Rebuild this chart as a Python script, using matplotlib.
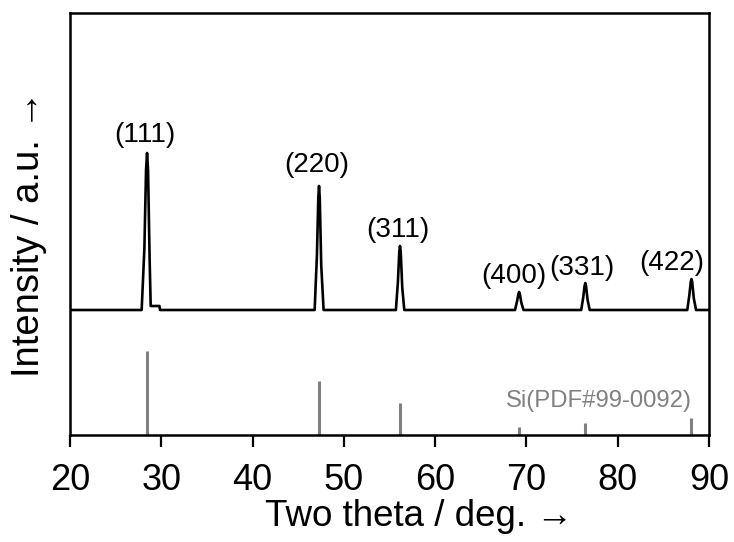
import matplotlib
matplotlib.use('Agg')
from matplotlib import pyplot as plt

plt.rcParams['font.family'] = ['Liberation Sans', 'DejaVu Sans']

# Measured XRD trace (2theta, intensity above baseline)
trace_x = [20.0, 27.85, 28.15, 28.33, 28.44, 28.55, 28.72, 28.84, 29.80, 29.86,
           46.80, 47.05, 47.20, 47.28, 47.36, 47.52, 47.78,
           55.70, 55.92, 56.07, 56.15, 56.23, 56.40, 56.62,
           68.75, 68.98, 69.12, 69.20, 69.28, 69.45, 69.68,
           76.00, 76.23, 76.37, 76.45, 76.53, 76.70, 76.93,
           87.62, 87.85, 88.00, 88.08, 88.16, 88.33, 88.58, 90.0]
trace_y = [0, 0, 62, 140, 157, 140, 52, 4, 4, 0,
           0, 55, 112, 124, 112, 45, 0,
           0, 28, 58, 64, 58, 22, 0,
           0, 9, 16, 18, 16, 7, 0,
           0, 13, 24, 27, 24, 10, 0,
           0, 15, 28, 31, 28, 12, 0, 0]

# Reference pattern Si(PDF#99-0092)
ref_pos = [28.44, 47.28, 56.15, 69.20, 76.45, 88.08]
ref_int = [84, 54, 32, 8, 12, 17]

hkl = ['(111)', '(220)', '(311)', '(400)', '(331)', '(422)']
peak_int = [157, 124, 64, 18, 27, 31]

offset = 125  # vertical shift of the measured trace

fig = plt.figure(figsize=(7.34, 5.42), dpi=100)
ax = fig.add_axes([70 / 734, 107 / 542, 639 / 734, 422 / 542])

ax.plot(trace_x, [v + offset for v in trace_y], color='black', linewidth=1.9,
        solid_joinstyle='round')
ax.vlines(ref_pos, 0, ref_int, color='#808080', linewidth=2.2)

# label nudges in pixels
label_shift = [(-2, 5), (-2, 8), (-2, 3), (-5, 3), (-3, 2), (-20, 3)]
for pos, h, txt, (dx, dy) in zip(ref_pos, peak_int, hkl, label_shift):
    ax.annotate(txt, (pos, h + offset), xytext=(dx, dy), textcoords='offset pixels',
                ha='center', va='bottom', fontsize=20)

ax.text(0.973, 0.08, 'Si(PDF#99-0092)', transform=ax.transAxes, ha='right',
        va='center', fontsize=17.2, color='#808080')

ax.set_xlim(20, 90)
ax.set_ylim(0, 422)
ax.set_xticks(range(20, 91, 10))
ax.set_yticks([])
ax.tick_params(axis='x', direction='out', length=8.5, width=1.6, labelsize=26, pad=12)
for sp in ax.spines.values():
    sp.set_linewidth(1.8)

ax.set_xlabel('Two theta / deg. →', fontsize=26.5)
ax.set_ylabel('Intensity / a.u. →', fontsize=27.5)
ax.xaxis.set_label_coords(0.546, -0.152)
ax.yaxis.set_label_coords(-0.036, 0.4775)

fig.savefig('out.png', dpi=100)
